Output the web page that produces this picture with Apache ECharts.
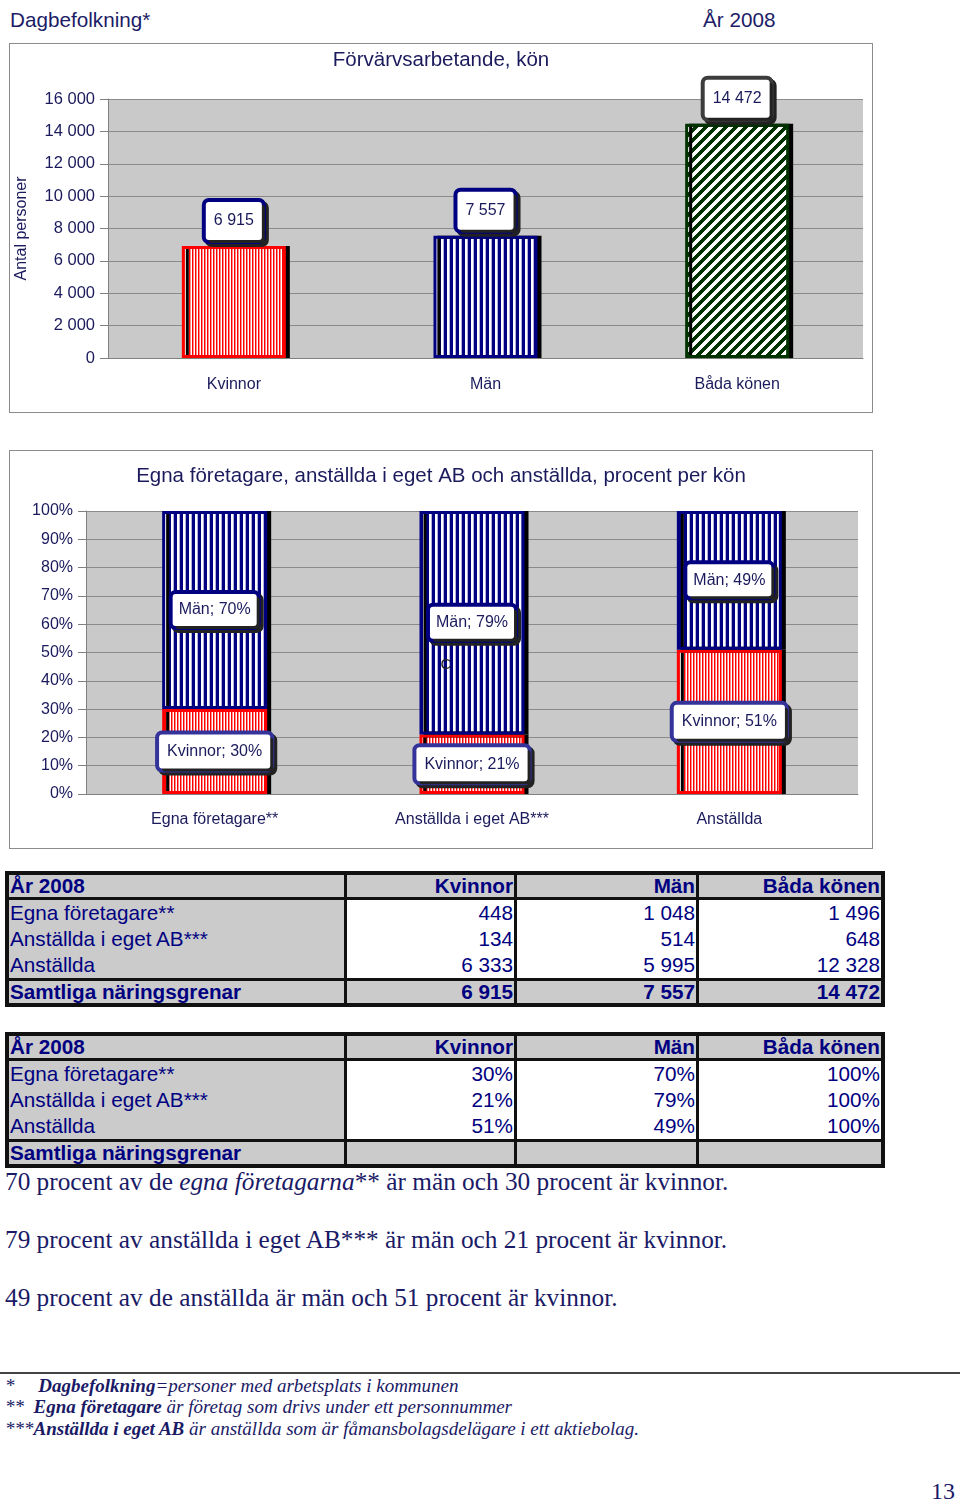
<!DOCTYPE html>
<html>
<head>
<meta charset="utf-8">
<script src="https://cdn.jsdelivr.net/npm/echarts@6/dist/echarts.min.js"></script>
<style>
  body { margin: 0; background: #fff; }
  #page { position: relative; width: 960px; height: 1507px; background: #fff; overflow: hidden; }
  .abs { position: absolute; white-space: nowrap; }
  .hdr { font: 20.7px "Liberation Sans", Arial, sans-serif; color: #1c1c66; }
  .box { position: absolute; border: 1px solid #8c8c8c; background: #fff; }
  #chart { position: absolute; left: 0; top: 0; width: 960px; height: 860px; }
  table.t { position: absolute; left: 5px; border-collapse: separate; border-spacing: 0; border: 4px solid #111;
            font: 20.7px "Liberation Sans", Arial, sans-serif; color: #000080; table-layout: fixed; }
  table.t td { padding: 0 1px; height: 26px; line-height: 26px; overflow: hidden; white-space: nowrap; }
  table.t td.c1 { background: #cbcbcb; text-align: left; }
  table.t td.n { background: #fff; text-align: right; border-left: 3px solid #111; }
  table.t tr.h td, table.t tr.s td { background: #cbcbcb; font-weight: bold; height: 22px; line-height: 22px; }
  table.t tr.h td { border-bottom: 3px solid #111; }
  table.t tr.s td { border-top: 3px solid #111; }
  .p { font: 25.3px "Liberation Serif", "Times New Roman", serif; color: #1a1a66; }
  .fn { font: italic 19px "Liberation Serif", "Times New Roman", serif; color: #1a1a66; }
  .fn b { font-weight: bold; }
</style>
</head>
<body>
<div id="page">
  <div class="abs hdr" style="left:10px;top:8px">Dagbefolkning*</div>
  <div class="abs hdr" style="left:703px;top:8px">År 2008</div>
  <div class="box" style="left:9px;top:43px;width:862px;height:368px"></div>
  <div class="box" style="left:9px;top:450px;width:862px;height:397px"></div>
  <div id="chart"></div>
  <table class="t" id="t1" style="top:871px"></table>
  <table class="t" id="t2" style="top:1032px"></table>
  <div class="abs p" style="left:5px;top:1167px">70 procent av de <i>egna företagarna</i>** är män och 30 procent är kvinnor.</div>
  <div class="abs p" style="left:5px;top:1225px">79 procent av anställda i eget AB*** är män och 21 procent är kvinnor.</div>
  <div class="abs p" style="left:5px;top:1283px">49 procent av de anställda är män och 51 procent är kvinnor.</div>
  <div class="abs" style="left:0;top:1372px;width:960px;height:2px;background:#444"></div>
  <div class="abs fn" style="left:5px;top:1375px">*&nbsp;&nbsp;&nbsp;&nbsp;&nbsp;<b>Dagbefolkning</b>=personer med arbetsplats i kommunen</div>
  <div class="abs fn" style="left:5px;top:1396px">**&nbsp;&nbsp;<b>Egna företagare</b> är företag som drivs under ett personnummer</div>
  <div class="abs fn" style="left:5px;top:1418px">***<b>Anställda i eget AB</b> är anställda som är fåmansbolagsdelägare i ett aktiebolag.</div>
  <div class="abs p" style="left:931px;top:1478px;font-size:24px">13</div>
</div>
<script>
// data
var kon = ['Kvinnor', 'Män', 'Båda könen'];
var totalAntal = [6915, 7557, 14472];
var grupper = ['Egna företagare**', 'Anställda i eget AB***', 'Anställda'];
var kvinnorAntal = [448, 134, 6333];
var manAntal = [1048, 514, 5995];
var badaAntal = [1496, 648, 12328];
var kvinnorPct = [30, 21, 51];
var manPct = [70, 79, 49];
var badaPct = [100, 100, 100];
var yTicks1 = ['0', '2 000', '4 000', '6 000', '8 000', '10 000', '12 000', '14 000', '16 000'];
var yTicks2 = ['0%', '10%', '20%', '30%', '40%', '50%', '60%', '70%', '80%', '90%', '100%'];

function fmt(v) { return String(v).replace(/\B(?=(\d{3})+(?!\d))/g, ' '); }

// tables
function buildTable(id, rows, cols, sum) {
  var h = '<colgroup><col style="width:335px"><col style="width:170px"><col style="width:182px"><col style="width:185px"></colgroup>';
  h += '<tr class="h"><td class="c1">År 2008</td>';
  kon.forEach(function (k) { h += '<td class="n">' + k + '</td>'; });
  h += '</tr>';
  rows.forEach(function (r, i) {
    h += '<tr><td class="c1">' + r + '</td>';
    cols.forEach(function (c) { h += '<td class="n">' + c[i] + '</td>'; });
    h += '</tr>';
  });
  h += '<tr class="s"><td class="c1">Samtliga näringsgrenar</td>';
  sum.forEach(function (s) { h += '<td class="n">' + s + '</td>'; });
  h += '</tr>';
  document.getElementById(id).innerHTML = h;
}
buildTable('t1', grupper, [kvinnorAntal.map(fmt), manAntal.map(fmt), badaAntal.map(fmt)], totalAntal.map(fmt));
buildTable('t2', grupper, [kvinnorPct.map(function (v) { return v + '%'; }), manPct.map(function (v) { return v + '%'; }),
  badaPct.map(function (v) { return v + '%'; })], ['', '', '']);

// patterns
function makePattern(w, h, fn) {
  var c = document.createElement('canvas');
  c.width = w; c.height = h;
  var ctx = c.getContext('2d');
  for (var x = 0; x < w; x++) {
    for (var y = 0; y < h; y++) {
      ctx.fillStyle = fn(x, y);
      ctx.fillRect(x, y, 1, 1);
    }
  }
  return { image: c, repeat: 'repeat' };
}
var redCols = ['#ff0000', '#ff8888', '#ffffff'];
var blueCols = ['#000080', '#000080', '#000080', '#ffffff', '#ffffff', '#b0b0d8'];
var redPat = makePattern(3, 1, function (x) { return redCols[x]; });
var bluePat = makePattern(6, 1, function (x) { return blueCols[x]; });
var greenPat = makePattern(10, 10, function (x, y) { return ((x + y) % 10) < 5 ? '#003300' : '#ffffff'; });

var font = '"Liberation Sans", Arial, sans-serif';
var txt = '#1a1a5c';
var shadow = { shadowColor: '#000', shadowBlur: 0, shadowOffsetX: 4, shadowOffsetY: 0 };

var barStyles = [
  Object.assign({ color: redPat, borderColor: '#ff0000', borderWidth: 3 }, shadow),
  Object.assign({ color: bluePat, borderColor: '#000080', borderWidth: 3 }, shadow),
  Object.assign({ color: greenPat, borderColor: '#003300', borderWidth: 3 }, shadow)
];
var labelBorders = ['#000080', '#000080', '#3c3c3c'];

var chart = echarts.init(document.getElementById('chart'), null, { renderer: 'canvas' });
chart.setOption({
  backgroundColor: 'transparent',
  animation: false,
  textStyle: { fontFamily: font },
  graphic: [
    { type: 'text', x: 441, y: 60, style: { text: 'Förvärvsarbetande, kön', font: '20.5px ' + font, fill: txt, align: 'center', verticalAlign: 'middle' } },
    { type: 'text', x: 441, y: 476, style: { text: 'Egna företagare, anställda i eget AB och anställda, procent per kön', font: '20.5px ' + font, fill: txt, align: 'center', verticalAlign: 'middle' } },
    { type: 'text', x: 446, y: 665, z: 100, style: { text: 'C', font: '15px ' + font, fill: '#222', align: 'center', verticalAlign: 'middle' } }
  ],
  grid: [
    { left: 108, top: 99, width: 755, height: 259, show: true, backgroundColor: '#c9c9c9', borderWidth: 0 },
    { left: 86, top: 511, width: 772, height: 283, show: true, backgroundColor: '#c9c9c9', borderWidth: 0 }
  ],
  xAxis: [
    { gridIndex: 0, type: 'category', data: kon,
      axisLine: { lineStyle: { color: '#808080' } }, axisTick: { show: false },
      axisLabel: { margin: 19, fontSize: 16, color: txt, fontFamily: font } },
    { gridIndex: 1, type: 'category', data: grupper,
      axisLine: { lineStyle: { color: '#808080' } }, axisTick: { show: false },
      axisLabel: { margin: 18, fontSize: 16, color: txt, fontFamily: font } }
  ],
  yAxis: [
    { gridIndex: 0, type: 'value', min: 0, max: 16000, interval: 2000,
      name: 'Antal personer', nameLocation: 'middle', nameRotate: 90, nameGap: 78,
      nameTextStyle: { fontSize: 16, color: txt, fontFamily: font },
      axisLine: { show: true, lineStyle: { color: '#808080' } },
      axisTick: { show: true, length: 8, lineStyle: { color: '#808080' } },
      axisLabel: { margin: 13, fontSize: 16.5, color: txt, fontFamily: font,
        formatter: function (v) { return yTicks1[Math.round(v / 2000)]; } },
      splitLine: { lineStyle: { color: '#8a8a8a' } } },
    { gridIndex: 1, type: 'value', min: 0, max: 100, interval: 10,
      axisLine: { show: true, lineStyle: { color: '#808080' } },
      axisTick: { show: true, length: 8, lineStyle: { color: '#808080' } },
      axisLabel: { margin: 13, fontSize: 16, color: txt, fontFamily: font,
        formatter: function (v) { return yTicks2[Math.round(v / 10)]; } },
      splitLine: { lineStyle: { color: '#8a8a8a' } } }
  ],
  series: [
    { type: 'bar', xAxisIndex: 0, yAxisIndex: 0, barWidth: 104,
      data: totalAntal.map(function (v, i) {
        return { value: v, itemStyle: barStyles[i], label: { borderColor: labelBorders[i] } };
      }),
      label: { show: true, position: 'top', distance: 6, formatter: function (p) { return fmt(p.value); },
        fontSize: 16, color: txt, fontFamily: font, backgroundColor: '#fff', borderWidth: 4, borderRadius: 3,
        padding: [11, 8], shadowColor: '#222', shadowOffsetX: 3, shadowOffsetY: 3, shadowBlur: 0 } },
    { type: 'bar', name: 'Kvinnor', xAxisIndex: 1, yAxisIndex: 1, stack: 'p', barWidth: 105,
      data: kvinnorPct, itemStyle: barStyles[0],
      label: { show: true, position: 'inside', formatter: '{a}; {c}%', fontSize: 16, color: txt, fontFamily: font,
        backgroundColor: '#fff', borderColor: '#333399', borderWidth: 4, borderRadius: 3, padding: [9, 8],
        shadowColor: '#222', shadowOffsetX: 3, shadowOffsetY: 3, shadowBlur: 0 } },
    { type: 'bar', name: 'Män', xAxisIndex: 1, yAxisIndex: 1, stack: 'p', barWidth: 105,
      data: manPct, itemStyle: barStyles[1],
      label: { show: true, position: 'inside', formatter: '{a}; {c}%', fontSize: 16, color: txt, fontFamily: font,
        backgroundColor: '#fff', borderColor: '#000080', borderWidth: 4, borderRadius: 3, padding: [8, 6],
        shadowColor: '#222', shadowOffsetX: 3, shadowOffsetY: 3, shadowBlur: 0 } }
  ]
});
</script>
</body>
</html>
